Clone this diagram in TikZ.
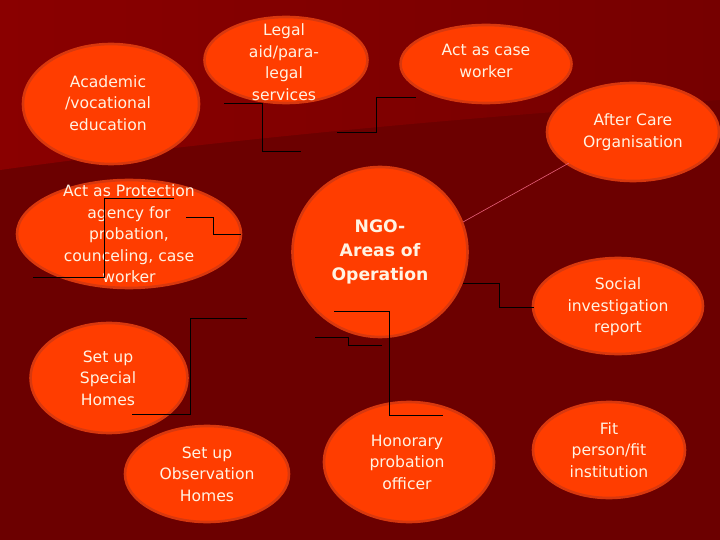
\documentclass[tikz,border=0pt]{standalone}
\usepackage{fontspec}
\setmainfont{DejaVu Sans}
\usetikzlibrary{shapes.geometric}
\definecolor{bgdark}{HTML}{6C0000}
\definecolor{bglight}{HTML}{8A0000}
\definecolor{bgmid}{HTML}{760000}
\definecolor{bubfill}{HTML}{FF3D00}
\definecolor{bubline}{HTML}{D8380E}
\definecolor{txtc}{HTML}{FFF3E3}
\definecolor{pinkline}{HTML}{E8607A}
\tikzset{
  bub/.style={ellipse, fill=bubfill, draw=bubline, line width=2.6pt, inner sep=0pt},
  txt/.style={text=txtc, align=center, inner sep=0pt, font=\fontsize{15.6}{21.5}\selectfont},
  bigtxt/.style={text=txtc, align=center, inner sep=0pt, font=\bfseries\fontsize{17.2}{24}\selectfont},
  conn/.style={draw=black, line width=0.9pt},
  thinpink/.style={draw=pinkline, line width=0.6pt}
}
\begin{document}
\begin{tikzpicture}[x=1pt,y=-1pt]
\useasboundingbox (0,0) rectangle (720,540);
% background
\fill[bgdark] (0,0) rectangle (720,540);
\shade[left color=bglight, right color=bgmid]
  (0,0) -- (720,0) -- (720,100) .. controls (450,118) and (200,142) .. (0,170) -- cycle;

% bubbles
\node[bub, minimum width=176pt, minimum height=120pt] (acad) at (111,104) {};
\node[bub, minimum width=163pt, minimum height=86pt] (legal) at (286,60) {};
\node[bub, minimum width=171pt, minimum height=78pt] (case) at (486,64) {};
\node[bub, minimum width=172pt, minimum height=98pt] (after) at (633,132) {};
\node[bub, minimum width=224pt, minimum height=108pt] (prot) at (129,234) {};
\node[bub, minimum width=175pt, minimum height=170pt] (ngo) at (380,252) {};
\node[bub, minimum width=170pt, minimum height=96pt] (social) at (618,306) {};
\node[bub, minimum width=157pt, minimum height=110pt] (special) at (109,378) {};
\node[bub, minimum width=164pt, minimum height=96pt] (obs) at (207,474) {};
\node[bub, minimum width=170pt, minimum height=120pt] (hon) at (409,462) {};
\node[bub, minimum width=152pt, minimum height=96pt] (fit) at (609,450) {};

% texts
\node[txt] (tacad) at (108,103) {Academic\\/vocational\\education};
\node[txt] (tlegal) at (284,62) {Legal\\aid/para-\\legal\\services};
\node[txt] (tcase) at (486,61) {Act as case\\worker};
\node[txt] (tafter) at (633,132) {After Care\\Organisation};
\node[txt] (tprot) at (129,234) {Act as Protection\\agency for\\probation,\\counceling, case\\worker};
\node[bigtxt] (tngo) at (380,252) {NGO-\\Areas of\\Operation};
\node[txt] (tsocial) at (618,307) {Social\\investigation\\report};
\node[txt] (tspecial) at (108,378) {Set up\\Special\\Homes};
\node[txt] (tobs) at (207,474) {Set up\\Observation\\Homes};
\node[txt] (thon) at (407,462) {Honorary\\probation\\officer};
\node[txt] (tfit) at (609,450) {Fit\\person/fit\\institution};

% connector fragments
\draw[conn] (224,103) -- (262,103) -- (262,151) -- (301,151);
\draw[conn] (337,132) -- (376,132) -- (376,97) -- (416,97);
\draw[conn] (174,198) -- (104,198) -- (104,277) -- (33,277);
\draw[conn] (186,217) -- (213,217) -- (213,234) -- (241,234);
\draw[conn] (247,318) -- (190,318) -- (190,414) -- (132,414);
\draw[conn] (463,283) -- (499,283) -- (499,307) -- (534,307);
\draw[conn] (334,311) -- (389,311) -- (389,415) -- (443,415);
\draw[conn] (315,337) -- (348,337) -- (348,345) -- (382,345);
\coordinate (pinkstart) at (569,163);
\draw[thinpink] (pinkstart) -- (463,222);
\end{tikzpicture}
\end{document}
